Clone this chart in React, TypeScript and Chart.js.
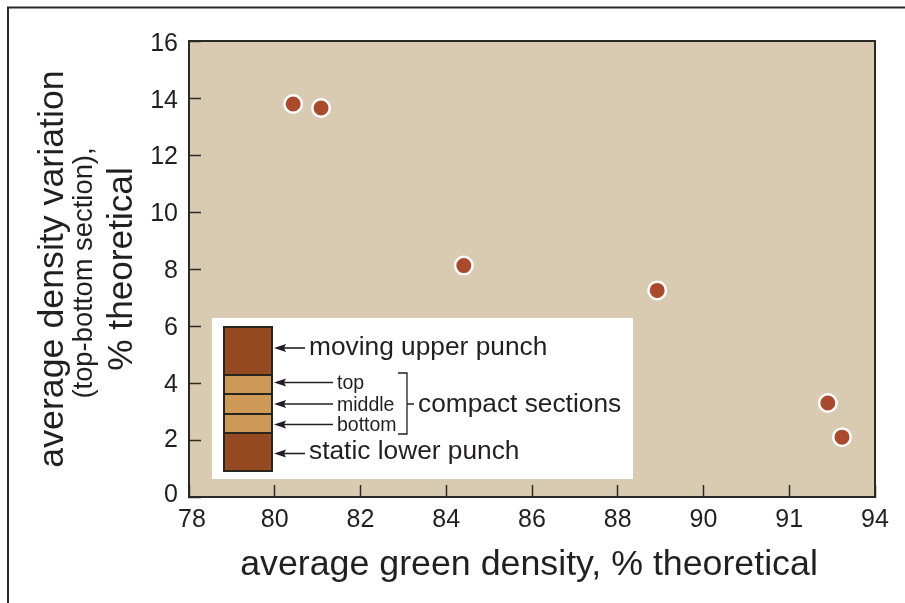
import React, { useEffect, useRef } from "react";
import { Chart, registerables } from "chart.js";

Chart.register(...registerables);

const greenDensity = [80.43, 81.08, 84.41, 88.92, 92.9, 93.23];
const densityVariation = [13.79, 13.65, 8.12, 7.25, 3.3, 2.1];
const xTickValues = [78, 80, 82, 84, 86, 88, 90, 92, 94];
const xTickLabels = ["78", "80", "82", "84", "86", "88", "90", "91", "94"];
const yLabelShift: Record<string, number> = { "0": -2, "2": 0, "4": 2, "6": 2, "8": 2, "10": 2, "12": 2, "14": 3, "16": 3 };
const xTitle = "average green density, % theoretical";
const yTitle = "average density variation";
const ySubTitle = "(top-bottom section),";
const yTitle2 = "% theoretical";

const INK = "#231f20";
const LINE = "#2a2a24";
const FONT = "'Liberation Sans', Arial, sans-serif";
const DARK = "#964a22";
const TAN = "#cd9a58";

function arrow(ctx: CanvasRenderingContext2D, tip: number, end: number, y: number) {
  ctx.strokeStyle = INK;
  ctx.fillStyle = INK;
  ctx.lineWidth = 1.6;
  ctx.beginPath();
  ctx.moveTo(tip + 4, y);
  ctx.lineTo(end, y);
  ctx.stroke();
  ctx.beginPath();
  ctx.moveTo(tip, y);
  ctx.lineTo(tip + 12, y - 4);
  ctx.lineTo(tip + 10, y);
  ctx.lineTo(tip + 12, y + 4);
  ctx.closePath();
  ctx.fill();
}

const decorPlugin = {
  id: "decor",
  afterLayout(chart: any) {
    const sx = chart.scales.x;
    const original = sx.drawTitle.bind(sx);
    sx.drawTitle = () => {
      sx.ctx.save();
      sx.ctx.translate(-3, 0);
      original();
      sx.ctx.restore();
    };
  },
  beforeDraw(chart: any) {
    const ctx = chart.ctx as CanvasRenderingContext2D;
    const a = chart.chartArea;
    chart.scales.y.getLabelItems().forEach((item: any) => {
      if (!item.$moved) {
        item.options.translation[1] += yLabelShift[String(item.label)] ?? 0;
        item.$moved = true;
      }
    });
    chart.scales.x.getLabelItems().forEach((item: any) => {
      if (!item.$moved) {
        if (item.label === "78") item.options.translation[0] += 3;
        item.$moved = true;
      }
    });
    ctx.save();
    ctx.fillStyle = "#d9cbb1";
    ctx.fillRect(a.left, a.top, a.right - a.left, a.bottom - a.top);
    ctx.strokeStyle = LINE;
    ctx.lineWidth = 2;
    ctx.beginPath();
    ctx.moveTo(8, 603);
    ctx.lineTo(8, 7.5);
    ctx.lineTo(905, 7.5);
    ctx.stroke();
    ctx.restore();
  },
  beforeDatasetsDraw(chart: any) {
    const ctx = chart.ctx as CanvasRenderingContext2D;
    const a = chart.chartArea;
    ctx.save();
    ctx.strokeStyle = LINE;
    ctx.lineWidth = 2;
    ctx.strokeRect(a.left, a.top, a.right - a.left, a.bottom - a.top);
    ctx.restore();
  },
  afterDatasetsDraw(chart: any) {
    const ctx = chart.ctx as CanvasRenderingContext2D;
    ctx.save();
    ctx.fillStyle = "#ffffff";
    ctx.fillRect(212, 318, 421, 161);
    const sections: [number, number, string][] = [
      [327, 375, DARK],
      [375, 394, TAN],
      [394, 414, TAN],
      [414, 433, TAN],
      [433, 471, DARK],
    ];
    sections.forEach(([t, b, c]) => {
      ctx.fillStyle = c;
      ctx.fillRect(224, t, 48, b - t);
      ctx.strokeStyle = "#26261f";
      ctx.lineWidth = 2;
      ctx.strokeRect(224, t, 48, b - t);
    });
    arrow(ctx, 274, 305, 348);
    arrow(ctx, 274, 333, 382.5);
    arrow(ctx, 274, 333, 404);
    arrow(ctx, 274, 333, 424.5);
    arrow(ctx, 274, 305, 453.5);
    ctx.strokeStyle = INK;
    ctx.lineWidth = 1.3;
    ctx.beginPath();
    ctx.moveTo(398, 373);
    ctx.lineTo(407, 373);
    ctx.lineTo(407, 434);
    ctx.lineTo(398, 434);
    ctx.moveTo(407, 404);
    ctx.lineTo(414, 404);
    ctx.stroke();
    ctx.fillStyle = INK;
    ctx.textBaseline = "alphabetic";
    ctx.textAlign = "left";
    ctx.font = `26.3px ${FONT}`;
    ctx.fillText("moving upper punch", 309, 355);
    ctx.fillText("compact sections", 418, 412);
    ctx.fillText("static lower punch", 309, 459);
    ctx.font = `19.5px ${FONT}`;
    ctx.fillText("top", 337, 389);
    ctx.fillText("middle", 337, 411);
    ctx.fillText("bottom", 337, 431);
    ctx.textAlign = "center";
    ctx.textBaseline = "middle";
    ctx.save();
    ctx.translate(84, 273);
    ctx.rotate(-Math.PI / 2);
    ctx.font = `27.4px ${FONT}`;
    ctx.fillText(ySubTitle, 0, 0);
    ctx.restore();
    ctx.save();
    ctx.translate(122, 269);
    ctx.rotate(-Math.PI / 2);
    ctx.font = `35.2px ${FONT}`;
    ctx.fillText(yTitle2, 0, 0);
    ctx.restore();
    ctx.restore();
  },
};

export default function App() {
  const ref = useRef<HTMLCanvasElement>(null);
  useEffect(() => {
    document.body.style.margin = "0";
    const chart = new Chart(ref.current!, {
      type: "scatter",
      data: {
        datasets: [
          {
            data: greenDensity.map((x, i) => ({ x, y: densityVariation[i] })),
            backgroundColor: "#a84a2b",
            borderColor: "#ffffff",
            borderWidth: 2.5,
            pointRadius: 8.75,
            pointHoverRadius: 8.75,
          },
        ],
      },
      options: {
        animation: false,
        responsive: false,
        layout: { padding: { top: 41, right: 30, left: 0, bottom: 0 } },
        plugins: { legend: { display: false }, tooltip: { enabled: false } },
        scales: {
          x: {
            type: "linear",
            min: 78,
            max: 94,
            afterFit: (s: any) => {
              s.height = 106;
              s.paddingLeft = 0;
              s.paddingRight = 0;
            },
            afterBuildTicks: (s: any) => {
              s.ticks = xTickValues.map((value) => ({ value }));
            },
            border: { color: LINE, width: 2 },
            grid: { drawOnChartArea: false, tickLength: -12, tickColor: LINE, tickWidth: 1.5 },
            ticks: {
              autoSkip: false,
              maxRotation: 0,
              padding: 20.5,
              color: INK,
              font: { family: FONT, size: 25 },
              callback: (v: any) => xTickLabels[xTickValues.indexOf(Number(v))] ?? "",
            },
            title: {
              display: true,
              text: xTitle,
              color: INK,
              font: { family: FONT, size: 35.75 },
              padding: { top: 0, bottom: 16 },
            },
          },
          y: {
            type: "linear",
            min: 0,
            max: 16,
            afterFit: (s: any) => {
              s.width = 189;
              s.paddingTop = 0;
              s.paddingBottom = 0;
            },
            border: { color: LINE, width: 2 },
            grid: { drawOnChartArea: false, tickLength: -12, tickColor: LINE, tickWidth: 1.5 },
            ticks: {
              stepSize: 2,
              padding: 23,
              color: INK,
              font: { family: FONT, size: 25 },
            },
            title: {
              display: true,
              text: yTitle,
              color: INK,
              font: { family: FONT, size: 35.75 },
              padding: { top: 32, bottom: 0 },
            },
          },
        },
      },
      plugins: [decorPlugin],
    } as any);
    return () => chart.destroy();
  }, []);
  return (
    <div style={{ position: "absolute", left: 0, top: 0, width: 905, height: 603 }}>
      <canvas ref={ref} width={905} height={603} style={{ display: "block" }} />
    </div>
  );
}
